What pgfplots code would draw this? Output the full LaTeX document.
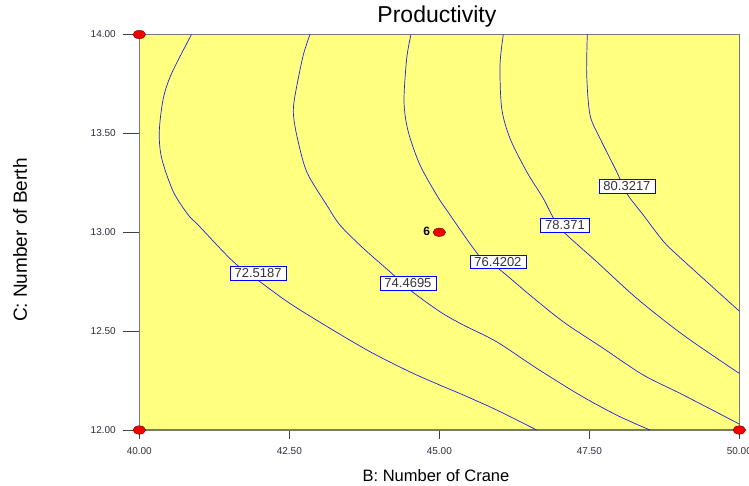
\documentclass[border=0pt]{standalone}
\usepackage{pgfplots}
\pgfplotsset{compat=1.18}
\usepackage{fontspec}
\setmainfont{Liberation Sans}
\definecolor{bgyellow}{RGB}{255,255,128}
\definecolor{contourblue}{RGB}{30,30,235}
\definecolor{ticktext}{RGB}{45,45,60}
\definecolor{framegray}{RGB}{120,120,120}
\definecolor{ptred}{RGB}{240,0,0}
\tikzset{lbl/.style={draw=blue, fill=white, text=black!80, line width=0.6pt,
    font=\fontsize{13}{15}\selectfont, inner xsep=4.5pt, inner ysep=2.3pt}}

\begin{document}
\begin{tikzpicture}
  % second axis only for the long y ticks and the y label
  \begin{axis}[
      name=ay,
      scale only axis,
      width=600pt, height=395.5pt,
      xmin=40, xmax=50, ymin=12, ymax=14,
      hide x axis,
      axis y line*=left,
      axis line style={draw=none},
      ytick={12,12.5,13,13.5,14},
      tick align=outside,
      major tick length=16pt,
      tick style={black!75, line width=0.8pt},
      y tick label style={
        font=\fontsize{10}{12}\selectfont, text=ticktext, xshift=-4pt,
        /pgf/number format/.cd, fixed, fixed zerofill, precision=2,
        assume math mode=true
      },
      ylabel={C: Number of Berth},
      ylabel style={at={(axis description cs:-0.1988,0.480)}, anchor=center,
        font=\fontsize{19}{22}\selectfont},
    ]
  \end{axis}

  \begin{axis}[
      name=ax,
      at={(ay.south west)}, anchor=south west,
      scale only axis,
      width=600pt, height=395.5pt,
      xmin=40, xmax=50, ymin=12, ymax=14,
      clip=false,
      axis background/.style={fill=bgyellow},
      axis line style={draw=framegray, line width=1.2pt},
      xtick={40,42.5,45,47.5,50},
      ytick=\empty,
      xtick pos=bottom,
      tick align=outside,
      major tick length=9pt,
      tick style={black!75, line width=0.8pt},
      x tick label style={
        font=\fontsize{10}{12}\selectfont, text=ticktext, yshift=-5pt,
        /pgf/number format/.cd, fixed, fixed zerofill, precision=2,
        assume math mode=true
      },
      xlabel={B: Number of Crane},
      xlabel style={at={(axis description cs:0.4945,0)}, anchor=base,
        yshift=-51.5pt, font=\fontsize{16.5}{20}\selectfont},
      title={Productivity},
      title style={at={(axis description cs:0.496,1)}, anchor=base,
        yshift=5.5pt, font=\fontsize{23}{27}\selectfont},
    ]
    % 72.5187
    \addplot[contourblue, line width=0.7pt, smooth] coordinates {
      (40.87,14.00) (40.54,13.804) (40.40,13.677) (40.333,13.508) (40.373,13.374)
      (40.567,13.205) (40.817,13.087) (40.983,13.036) (41.567,12.851) (42.01,12.75)
      (42.51,12.64) (43.18,12.514) (43.845,12.396) (44.51,12.294) (45.01,12.227)
      (45.40,12.177) (45.957,12.101) (46.623,12.0)
    };
    % 74.4695
    \addplot[contourblue, line width=0.7pt, smooth] coordinates {
      (42.845,14.0) (42.733,13.896) (42.607,13.711) (42.567,13.610) (42.623,13.492)
      (42.79,13.306) (43.123,13.138) (43.345,13.036) (43.733,12.919) (44.178,12.800)
      (44.512,12.708) (45.012,12.598) (45.40,12.531) (45.957,12.446) (46.623,12.312)
      (47.345,12.176) (47.957,12.075) (48.51,12.0)
    };
    % 76.4202
    \addplot[contourblue, line width=0.7pt, smooth] coordinates {
      (44.528,14.0) (44.457,13.880) (44.412,13.660) (44.483,13.508) (44.678,13.340)
      (44.957,13.188) (45.123,13.112) (45.678,12.876) (45.983,12.817) (46.512,12.682)
      (47.067,12.547) (47.733,12.413) (48.40,12.278) (49.067,12.177) (50.0,12.03)
    };
    % 78.371
    \addplot[contourblue, line width=0.7pt, smooth] coordinates {
      (46.067,14.0) (46.012,13.846) (46.04,13.627) (46.178,13.475) (46.457,13.306)
      (46.733,13.171) (46.9,13.073) (47.067,13.003) (47.623,12.851) (48.29,12.666)
      (49.067,12.480) (50.0,12.286)
    };
    % 80.3217
    \addplot[contourblue, line width=0.7pt, smooth] coordinates {
      (47.467,14.0) (47.457,13.795) (47.512,13.593) (47.678,13.475) (47.957,13.306)
      (48.123,13.197) (48.40,13.087) (48.65,12.986) (48.845,12.919) (49.457,12.750)
      (50.0,12.601)
    };

    \node[lbl] at (axis cs:41.98,12.794) {72.5187};
    \node[lbl] at (axis cs:44.478,12.743) {74.4695};
    \node[lbl] at (axis cs:45.978,12.851) {76.4202};
    \node[lbl] at (axis cs:47.095,13.036) {78.371};
    \node[lbl] at (axis cs:48.128,13.234) {80.3217};

    % design points
    \addplot[only marks, mark=*, mark size=4.2pt,
      mark options={xscale=1.5, fill=ptred, draw=red!45!black, line width=0.4pt}]
      coordinates {(40,14) (40,12) (50,12) (45,13)};
    \node[anchor=east, inner sep=0pt, font=\fontsize{12}{14}\selectfont\bfseries]
      at (axis cs:44.85,13.006) {6};
  \end{axis}

  \pgfresetboundingbox
  \path ([xshift=-139.3pt,yshift=-55pt]ax.south west)
    rectangle ([xshift=9.7pt,yshift=34.5pt]ax.north east);
\end{tikzpicture}
\end{document}
